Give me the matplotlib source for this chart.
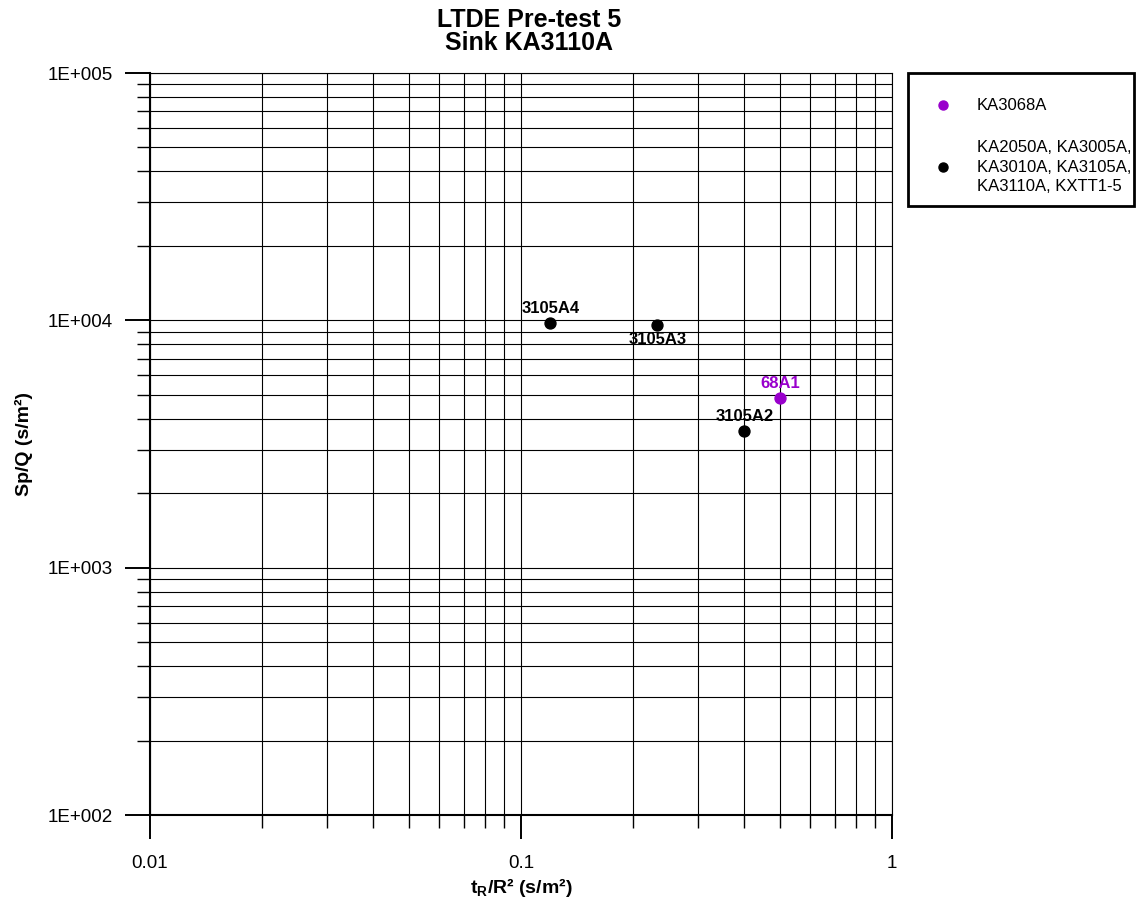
import numpy as np
import matplotlib
matplotlib.use("Agg")
import matplotlib.pyplot as plt
from matplotlib.ticker import LogLocator, FuncFormatter, NullFormatter
from matplotlib.lines import Line2D
from matplotlib.patches import Rectangle

plt.rcParams['font.family'] = ['Liberation Sans', 'DejaVu Sans']

# Measured points: normalised time vs specific drawdown
black_labels = ["3105A4", "3105A3", "3105A2"]
black_tR = [0.12, 0.233, 0.40]
black_spq = [9780, 9600, 3560]

purple_labels = ["68A1"]
purple_tR = [0.50]
purple_spq = [4860]

legend_labels = ["KA3068A", "KA2050A, KA3005A,\nKA3010A, KA3105A,\nKA3110A, KXTT1-5"]
legend_colors = ["#9900cc", "black"]

title_lines = ["LTDE Pre-test 5", "Sink KA3110A"]
x_ticks = [0.01, 0.1, 1]
x_ticklabels = ["0.01", "0.1", "1"]

PURPLE = "#9900cc"

fig = plt.figure(figsize=(11.37, 9.0), dpi=100)
ax = fig.add_axes([150/1137, 1-815/900, 742/1137, 742/900])
ax.set_xscale("log")
ax.set_yscale("log")
ax.set_xlim(0.01, 1)
ax.set_ylim(1e2, 1e5)

ax.xaxis.set_minor_locator(LogLocator(base=10, subs=np.arange(2, 10), numticks=20))
ax.yaxis.set_major_locator(LogLocator(base=10, numticks=10))
ax.yaxis.set_minor_locator(LogLocator(base=10, subs=np.arange(2, 10), numticks=20))
ax.set_xticks(x_ticks)
ax.set_xticklabels(x_ticklabels)
ax.xaxis.set_minor_formatter(NullFormatter())
ax.yaxis.set_major_formatter(FuncFormatter(lambda v, p: "1E+%03d" % int(round(np.log10(v)))))
ax.yaxis.set_minor_formatter(NullFormatter())

ax.grid(True, which="both", color="black", linewidth=0.8)
ax.set_axisbelow(True)
for s in ["top", "right"]:
    ax.spines[s].set_linewidth(0.8)
for s in ["left", "bottom"]:
    ax.spines[s].set_linewidth(1.5)

ax.tick_params(axis="y", which="major", direction="out", length=18, width=1.4,
               labelsize=13.5, pad=9)
ax.tick_params(axis="y", which="minor", direction="out", length=9.5, width=1.0)
ax.tick_params(axis="x", which="major", direction="out", length=17.5, width=1.4,
               labelsize=13.5, pad=11)
ax.tick_params(axis="x", which="minor", direction="out", length=9, width=1.0)

ax.scatter(black_tR, black_spq, s=62, color="black", zorder=5, clip_on=False)
ax.scatter(purple_tR, purple_spq, s=62, color=PURPLE, zorder=5, clip_on=False)

# label offsets in points (dx, dy)
offs = {"3105A4": (0, 10.5), "3105A3": (0, -10.5), "3105A2": (0, 10.5)}
for lab, x, y in zip(black_labels, black_tR, black_spq):
    dx, dy = offs[lab]
    ax.annotate(lab, (x, y), xytext=(dx, dy), textcoords="offset points",
                ha="center", va="center", fontsize=12, fontweight="bold", color="black")
for lab, x, y in zip(purple_labels, purple_tR, purple_spq):
    ax.annotate(lab, (x, y), xytext=(0, 10), textcoords="offset points",
                ha="center", va="center", fontsize=12, fontweight="bold", color=PURPLE)

ax.set_xlabel(r"t$_\mathregular{R}$/R² (s/m²)", fontsize=14, fontweight="bold", labelpad=3)
ax.set_ylabel("Sp/Q (s/m²)", fontsize=14, fontweight="bold", labelpad=10)

fig.text(529/1137, 1-20/900, title_lines[0], ha="center", va="center",
         fontsize=18, fontweight="bold")
fig.text(529/1137, 1-42.5/900, title_lines[1], ha="center", va="center",
         fontsize=18, fontweight="bold")

# legend box
W, H = 1137.0, 900.0
fig.patches.append(Rectangle((908/W, 1-206/H), (1134-908)/W, (206-73)/H,
                             transform=fig.transFigure, fill=False,
                             edgecolor="black", linewidth=2))
leg_y = [105, 167]
for lab, col, yy in zip(legend_labels, legend_colors, leg_y):
    fig.lines.append(Line2D([943/W], [1-yy/H], marker="o", markersize=6.5,
                            color=col, linestyle="none", transform=fig.transFigure))
    fig.text(977/W, 1-yy/H, lab, ha="left", va="center", fontsize=12,
             linespacing=1.36)

fig.savefig("out.png", dpi=100)
